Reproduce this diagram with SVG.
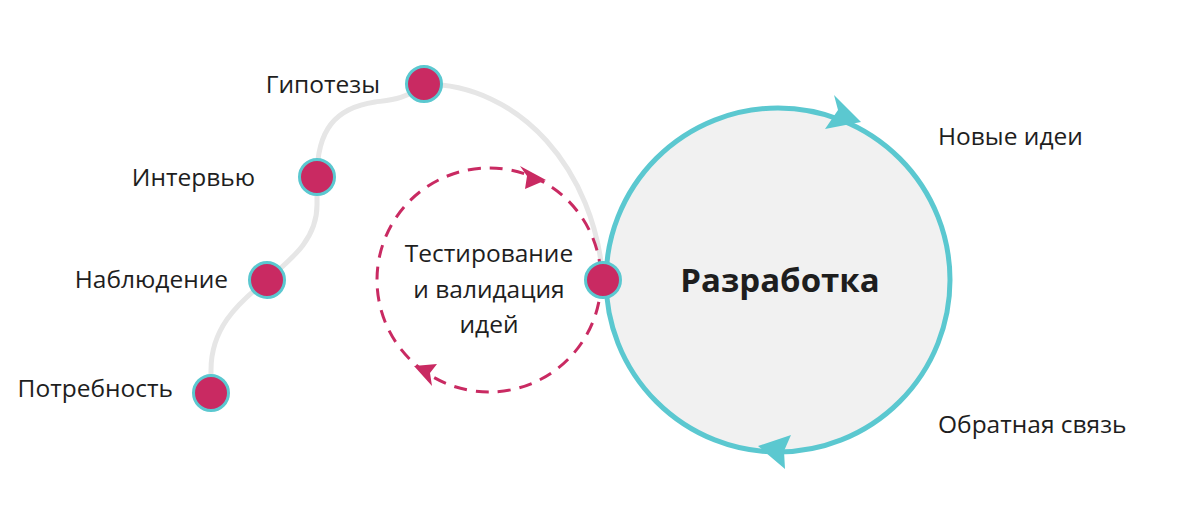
<svg xmlns="http://www.w3.org/2000/svg" width="1200" height="520" viewBox="0 0 1200 520">
<style>
text{font-family:"Open Sans","Noto Sans","Liberation Sans",sans-serif;fill:#1e1e1e;font-size:24.5px}
.dot{fill:#C92A62;stroke:#5BC8D0;stroke-width:3}
.path{fill:none;stroke:#E6E6E6;stroke-width:5;stroke-linecap:round}
.teal{fill:#5BC8D0}
.red{fill:#C92A62}
</style>
<rect width="1200" height="520" fill="#fff"/>
<g id="connectors">
<path class="path" d="M211 393 L211 370 C211 330 235 305 267 280 C290 260 317 240 317 205 L317 177 C317 130 335 108 375 102 C390 100 405 100 424 84 C520 84 595 170 603 280"/>
</g>
<g id="dev-cycle">
<circle cx="778" cy="280" r="172" fill="#F1F1F1" stroke="#5BC8D0" stroke-width="5"/>
<polygon class="teal" points="861,122 834,95 838,110 825,129"/>
<polygon class="teal" points="758,446 791,435 784,451 785,469"/>
<text x="780" y="292" text-anchor="middle" style="font-size:33px;font-weight:bold">Разработка</text>
</g>
<g id="test-cycle">
<circle cx="489" cy="280" r="112" fill="none" stroke="#C92A62" stroke-width="3" stroke-dasharray="13 9"/>
<polygon class="red" points="546,180 520,166 527,176 525,189"/>
<polygon class="red" points="414,366 437,364 430,373 432,386"/>
<text x="489" y="262" text-anchor="middle">Тестирование</text>
<text x="489" y="298" text-anchor="middle">и валидация</text>
<text x="489" y="333" text-anchor="middle">идей</text>
</g>
<g id="node-hypotheses"><circle class="dot" cx="424" cy="84" r="17.5"/><text x="380" y="93" text-anchor="end">Гипотезы</text></g>
<g id="node-interview"><circle class="dot" cx="317" cy="177" r="17.5"/><text x="255" y="186" text-anchor="end">Интервью</text></g>
<g id="node-observation"><circle class="dot" cx="267" cy="280" r="17.5"/><text x="228" y="288" text-anchor="end">Наблюдение</text></g>
<g id="node-need"><circle class="dot" cx="211" cy="393" r="17.5"/><text x="173" y="397" text-anchor="end">Потребность</text></g>
<g id="node-dev"><circle class="dot" cx="603" cy="280" r="17.5"/></g>
<g id="label-new"><text x="938" y="145">Новые идеи</text></g>
<g id="label-feedback"><text x="938" y="433">Обратная связь</text></g>
</svg>
